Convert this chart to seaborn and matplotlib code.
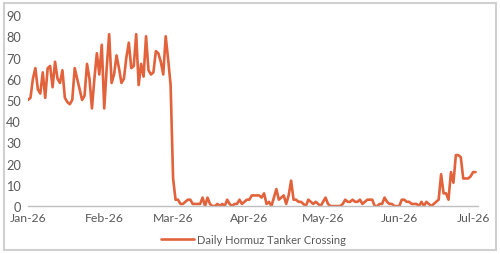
import pandas as pd
import matplotlib
matplotlib.use('Agg')
import matplotlib.pyplot as plt
import matplotlib.dates as mdates
from matplotlib.patches import Rectangle
import seaborn as sns

# daily tanker crossings
jan_vals = [50, 51, 60, 65, 55, 53, 63, 51, 65, 66, 56, 68, 60, 58, 64, 51,
            49, 48, 50, 65, 60, 55, 50, 52, 67, 60, 46, 60, 72, 62, 76]
feb_vals = [46, 65, 81, 58, 62, 71, 65, 58, 60, 70, 77, 65, 66, 81, 57, 67,
            61, 80, 64, 62, 63, 73, 72, 68, 62, 80, 69, 57]
mar_vals = [13, 3, 3, 1, 1, 2, 3, 3, 1, 1, 1, 1, 4, 0, 4, 1, 0, 0, 1, 0,
            1, 0, 3, 1, 0, 1, 1, 3, 1, 2, 3]
apr_vals = [3, 5, 5, 5, 5, 4, 6, 1, 2, 0, 4, 8, 3, 4, 5, 1, 5, 12, 3, 3,
            2, 2, 1, 0, 3, 2, 1, 2, 1, 0]
may_vals = [2, 4, 1, 0, 0, 0, 0, 0, 1, 3, 2, 2, 3, 2, 2, 3, 1, 2, 3, 3,
            3, 0, 0, 1, 1, 4, 2, 1, 1, 0, 0]
jun_vals = [0, 3, 3, 2, 2, 1, 1, 1, 0, 2, 0, 2, 1, 0, 1, 2, 3, 15, 6, 6,
            3, 16, 11, 24, 24, 23, 13, 13, 13, 14]
jul_vals = [16, 16]

series_name = 'Daily Hormuz Tanker Crossing'
y_ticks = [0, 10, 20, 30, 40, 50, 60, 70, 80, 90]

values = jan_vals + feb_vals + mar_vals + apr_vals + may_vals + jun_vals + jul_vals
dates = pd.date_range('2026-01-01', periods=len(values), freq='D')
df = pd.DataFrame({'Date': dates, series_name: values})

sns.set_style('white')
plt.rcParams['font.family'] = ['Lato', 'DejaVu Sans']

fig = plt.figure(figsize=(5, 2.55), dpi=100)
ax = fig.add_axes([0.056, 0.188, 0.9, 0.749])

sns.lineplot(data=df, x='Date', y=series_name, ax=ax, color='#E2623B',
             linewidth=1.9, label=series_name)

ax.set_xlim(pd.Timestamp('2026-01-01'), pd.Timestamp('2026-07-03'))
ax.set_ylim(0, 90)
ax.set_yticks(y_ticks)
ax.xaxis.set_major_locator(mdates.MonthLocator())
ax.xaxis.set_major_formatter(mdates.DateFormatter('%b-%y'))

ax.set_xlabel('')
ax.set_ylabel('')
for side in ['left', 'top', 'right']:
    ax.spines[side].set_visible(False)
ax.spines['bottom'].set_color('#bfbfbf')
ax.spines['bottom'].set_linewidth(1.0)
ax.tick_params(axis='x', colors='#bfbfbf', length=3, width=1.0, labelcolor='#595959',
               labelsize=8.8, pad=1.5)
ax.tick_params(axis='y', length=0, labelcolor='#595959', labelsize=9.2, pad=5)

ax.legend(loc='center', bbox_to_anchor=(0.5, -0.175), frameon=False,
          fontsize=8, labelcolor='#595959', handlelength=3.0, handletextpad=0.25)

# light grey frame round the whole chart
fig.patches.append(Rectangle((0.008, 0.014), 0.984, 0.972, transform=fig.transFigure,
                             fill=False, edgecolor='#d0d0d0', linewidth=1.5))

fig.savefig('out.png', dpi=100)
